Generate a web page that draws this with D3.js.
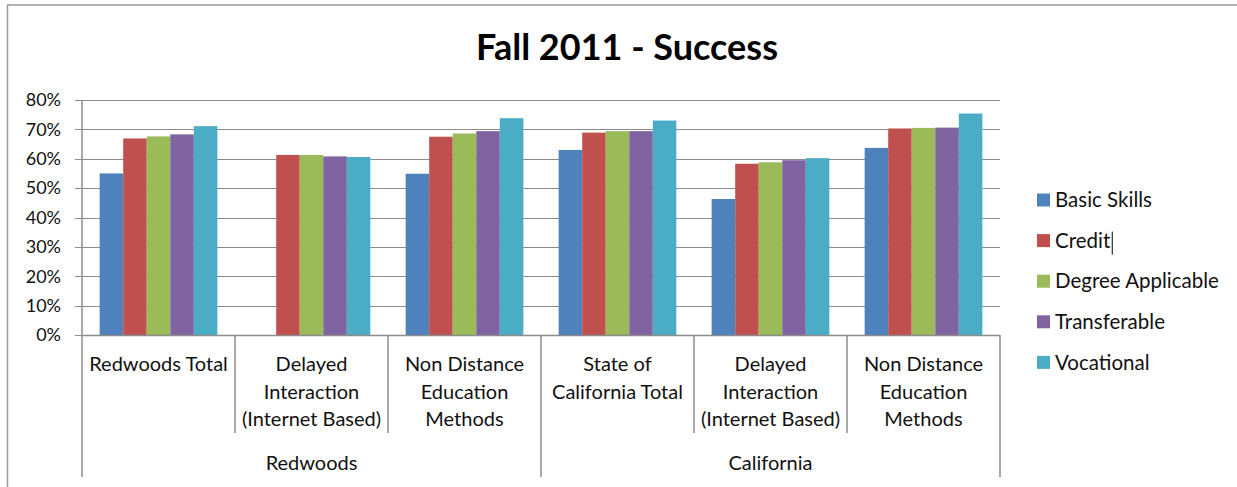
<!DOCTYPE html>
<html>
<head>
<meta charset="utf-8">
<script src="https://cdn.jsdelivr.net/npm/d3@7"></script>
<style>
  body { margin: 0; background: #fff; }
  svg { display: block; font-family: Lato, "Open Sans", sans-serif; }
</style>
</head>
<body>
<svg width="1237" height="487"></svg>
<script>
// categories (inner level) as wrapped label lines
var categories = ["rw_total", "rw_delayed", "rw_nondist", "ca_total", "ca_delayed", "ca_nondist"];
var categoryLabels = [
    ["Redwoods Total"],
    ["Delayed", "Interaction", "(Internet Based)"],
    ["Non Distance", "Education", "Methods"],
    ["State of", "California Total"],
    ["Delayed", "Interaction", "(Internet Based)"],
    ["Non Distance", "Education", "Methods"]
];
var groups = ["Redwoods", "California"];
var groupSpan = [[0, 2], [3, 5]];

var series = ["Basic Skills", "Credit", "Degree Applicable", "Transferable", "Vocational"];
var colours = ["#4F81BD", "#C0504D", "#9BBB59", "#8064A2", "#4BACC6"];

// values in percent, one array per series (null = no bar)
var basicSkills = [55.0, null, 54.9, 63.0, 46.3, 63.7];
var credit      = [66.9, 61.3, 67.5, 68.9, 58.3, 70.3];
var degreeApp   = [67.6, 61.3, 68.6, 69.4, 58.8, 70.5];
var transfer    = [68.3, 60.8, 69.4, 69.4, 59.5, 70.6];
var vocational  = [71.1, 60.6, 73.8, 73.0, 60.2, 75.4];
var values = [basicSkills, credit, degreeApp, transfer, vocational];

var yTicks = [0, 10, 20, 30, 40, 50, 60, 70, 80];

var svg = d3.select("svg"),
    width = +svg.attr("width"),
    height = +svg.attr("height");

var plotLeft = 82, plotRight = 1000, plotTop = 100, plotBottom = 335;
var gridColour = "#8c8c8c";

// chart frame (only top and left edges are visible)
svg.append("line").attr("x1", 7).attr("x2", width).attr("y1", 5).attr("y2", 5)
    .attr("stroke", "#9a9a9a").attr("stroke-width", 1.5);
svg.append("line").attr("x1", 7.5).attr("x2", 7.5).attr("y1", 5).attr("y2", height)
    .attr("stroke", "#9a9a9a").attr("stroke-width", 1.5);

svg.append("text")
    .attr("x", 627)
    .attr("y", 60)
    .attr("text-anchor", "middle")
    .style("font-size", "36px")
    .style("font-weight", "bold")
    .style("fill", "#000")
    .text("Fall 2011 - Success");

var x = d3.scaleBand().domain(categories).range([plotLeft, plotRight]).paddingInner(0).paddingOuter(0);
var gap = x.bandwidth() * 1.5 / 6.5;
var xs = d3.scaleBand().domain(series).range([gap / 2, x.bandwidth() - gap / 2]);
var y = d3.scaleLinear().domain([0, 80]).range([plotBottom, plotTop]);

// gridlines + y ticks
var yAxis = svg.append("g");
yAxis.selectAll("line.grid")
    .data(yTicks)
    .enter().append("line")
    .attr("x1", plotLeft - 7)
    .attr("x2", plotRight)
    .attr("y1", function (d) { return Math.round(y(d)) + 0.5; })
    .attr("y2", function (d) { return Math.round(y(d)) + 0.5; })
    .attr("stroke", gridColour)
    .attr("stroke-width", 1.2);

yAxis.selectAll("text")
    .data(yTicks)
    .enter().append("text")
    .attr("x", 61)
    .attr("y", function (d) { return y(d); })
    .attr("dy", "0.35em")
    .attr("text-anchor", "end")
    .style("font-size", "18px")
    .style("fill", "#111")
    .text(function (d) { return d + "%"; });

svg.append("line")
    .attr("x1", plotLeft).attr("x2", plotLeft)
    .attr("y1", plotTop).attr("y2", plotBottom)
    .attr("stroke", gridColour).attr("stroke-width", 1.5);

// bars
var cat = svg.append("g").selectAll("g")
    .data(categories)
    .enter().append("g")
    .attr("transform", function (d) { return "translate(" + x(d) + ",0)"; });

cat.selectAll("rect")
    .data(function (d, i) {
        return series.map(function (s, j) { return { s: s, j: j, v: values[j][i] }; })
            .filter(function (o) { return o.v != null; });
    })
    .enter().append("rect")
    .attr("x", function (d) { return xs(d.s); })
    .attr("width", xs.bandwidth())
    .attr("y", function (d) { return y(d.v); })
    .attr("height", function (d) { return y(0) - y(d.v); })
    .attr("fill", function (d) { return colours[d.j]; });

// x axis with two label levels
svg.append("line")
    .attr("x1", plotLeft).attr("x2", plotRight)
    .attr("y1", plotBottom + 0.5).attr("y2", plotBottom + 0.5)
    .attr("stroke", gridColour).attr("stroke-width", 1.5);

var seps = d3.range(categories.length + 1);
svg.selectAll("line.sep")
    .data(seps)
    .enter().append("line")
    .attr("x1", function (i) { return plotLeft + i * x.step(); })
    .attr("x2", function (i) { return plotLeft + i * x.step(); })
    .attr("y1", plotBottom)
    .attr("y2", function (i) { return (i % 3 == 0) ? 477 : 433; })
    .attr("stroke", gridColour)
    .attr("stroke-width", 1.5);

svg.selectAll("text.cat")
    .data(categoryLabels)
    .enter().append("text")
    .attr("text-anchor", "middle")
    .style("font-size", "20px")
    .style("fill", "#111")
    .attr("transform", function (d, i) {
        return "translate(" + (x(categories[i]) + x.bandwidth() / 2) + ",371)";
    })
    .selectAll("tspan")
    .data(function (d) { return d; })
    .enter().append("tspan")
    .attr("x", 0)
    .attr("y", function (d, i) { return i * 27.5; })
    .text(function (d) { return d; });

svg.selectAll("text.grp")
    .data(groups)
    .enter().append("text")
    .attr("x", function (d, i) {
        var g = groupSpan[i];
        return (x(categories[g[0]]) + x(categories[g[1]]) + x.bandwidth()) / 2;
    })
    .attr("y", 470)
    .attr("text-anchor", "middle")
    .style("font-size", "20px")
    .style("fill", "#111")
    .text(function (d) { return d; });

// legend
var legend = svg.append("g").selectAll("g")
    .data(series)
    .enter().append("g")
    .attr("transform", function (d, i) { return "translate(1037," + (200 + i * 40.6) + ")"; });

legend.append("rect")
    .attr("x", 0).attr("y", -6.5)
    .attr("width", 13).attr("height", 13)
    .attr("fill", function (d, i) { return colours[i]; });

var legendText = legend.append("text")
    .attr("x", 18)
    .attr("y", 0)
    .attr("dy", "0.35em")
    .style("font-size", "20.5px")
    .style("fill", "#111")
    .text(function (d) { return d; });

// the stray text cursor after "Credit" in the original
var cw = legendText.nodes()[1].getComputedTextLength();
svg.append("line")
    .attr("x1", 1037 + 18 + cw + 2).attr("x2", 1037 + 18 + cw + 2)
    .attr("y1", 200 + 40.6 - 9).attr("y2", 200 + 40.6 + 14)
    .attr("stroke", "#000").attr("stroke-width", 1);
</script>
</body>
</html>
